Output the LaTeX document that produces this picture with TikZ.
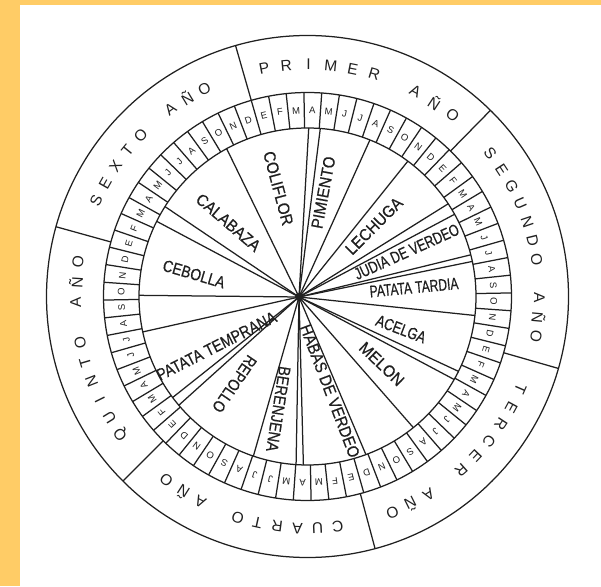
\documentclass[tikz,border=0pt]{standalone}
\usepackage{fontspec}
\setmainfont{Liberation Sans}
\newfontfamily\cropfont[FakeBold=0.5]{Liberation Sans}
\usetikzlibrary{calc}
\definecolor{frame}{HTML}{FFCC66}
\definecolor{ink}{HTML}{202020}
\newcommand{\croplabel}[2]{\resizebox{#1pt}{11.5pt}{\cropfont #2}}
\tikzset{
  ring/.style={draw=ink, line width=1.25pt},
  spoke/.style={draw=ink, line width=1.25pt},
  monthtxt/.style={inner sep=0pt, text=ink, font=\fontsize{9.5}{9.5}\selectfont},
  yeartxt/.style={inner sep=0pt, text=ink, font=\fontsize{15.5}{15.5}\selectfont},
  croptxt/.style={inner sep=0pt, text=ink},
}
\begin{document}
\begin{tikzpicture}[x=1pt,y=1pt]
\useasboundingbox (0,0) rectangle (601,586);
\fill[frame] (0,0) rectangle (601,586);
\fill[white] (20,0) rectangle (601,581);
\coordinate (C) at (307.5,289.5);
% circles
\draw[ring] (C) circle[radius=261];
\draw[ring] (C) circle[radius=204];
\draw[ring] (C) circle[radius=168.5];
% year separators
\foreach \a [count=\i] in {106,45.5,-16,-75,-135,164.5} {
  \coordinate (ys\i) at ($(C)+(\a:204)$);
  \coordinate (ye\i) at ($(C)+(\a:261)$);
  \draw[ring] (ys\i) -- (ye\i);
}
% month cells
\foreach \k in {0,...,71} {
  \coordinate (mi\k) at ($(C)+(106-5*\k:168.5)$);
  \coordinate (mo\k) at ($(C)+(106-5*\k:204)$);
  \draw[ring] (mi\k) -- (mo\k);
}
% month letters
\foreach \y in {0,...,5} {
  \foreach \m [count=\i from 0] in {E,F,M,A,M,J,J,A,S,O,N,D} {
    \pgfmathsetmacro\ang{103.5-60*\y-5*\i}
    \node[monthtxt, rotate=\ang-90] (ml\y-\i) at ($(C)+(\ang:186.25)$) {\m};
  }
}
% year labels
\foreach \nm/\ca/\st/\n/\txt in {
  a/76/5.5/10/{P,R,I,M,E,R,{},A,Ñ,O},
  b/14/4.8/11/{S,E,G,U,N,D,O,{},A,Ñ,O},
  c/-46/5/10/{T,E,R,C,E,R,{},A,Ñ,O},
  d/-105/5/10/{C,U,A,R,T,O,{},A,Ñ,O},
  e/194/5/10/{Q,U,I,N,T,O,{},A,Ñ,O},
  f/136/4.9/9/{S,E,X,T,O,{},A,Ñ,O}} {
  \foreach \ch [count=\i] in \txt {
    \pgfmathsetmacro\ang{\ca+\st*((\n+1)/2-\i)}
    \node[yeartxt, rotate=\ang-90] (yl\nm\i) at ($(C)+(\ang:232)$) {\ch};
  }
}
% crop spokes
\node[circle, fill=ink, inner sep=0pt, minimum size=8pt] (hub) at (299,289) {};
\foreach \t [count=\i] in {152,146,116,86.7,82.8,65.7,51.3,32,28,13.8,11.6,-6,-25,-28,-48.8,-67,-88.5,-91,-106,-138,-141.5,-167.4,179.4} {
  \pgfmathsetmacro\dd{8.5*cos(\t)+0.5*sin(\t)}
  \pgfmathsetmacro\len{\dd+168.5*sqrt(1-(72.5-\dd*\dd)/168.5/168.5)}
  \coordinate (se\i) at ($(hub.center)+(\t:\len)$);
  \draw[spoke] (hub.center) -- (se\i);
}
% crop labels
\node[croptxt, rotate=-75] (coliflor) at (278.3,397.7) {\croplabel{76}{COLIFLOR}};
\node[croptxt, rotate=79.5] (pimiento) at (323.3,393.5) {\croplabel{73}{PIMIENTO}};
\node[croptxt, rotate=45] (lechuga) at (374,360) {\croplabel{73}{LECHUGA}};
\node[croptxt, rotate=24.3] (judia) at (406.7,334.3) {\croplabel{113}{JUDIA DE VERDEO}};
\node[croptxt, rotate=5.4] (tardia) at (414,298.5) {\croplabel{89}{PATATA TARDIA}};
\node[croptxt, rotate=-20.7] (acelga) at (401,257) {\croplabel{52}{ACELGA}};
\node[croptxt, rotate=-43.8] (melon) at (381.7,222) {\croplabel{55}{MELON}};
\node[croptxt, rotate=-69.2] (habas) at (330,195) {\croplabel{141}{HABAS DE VERDEO}};
\node[croptxt, rotate=-98.9] (berenjena) at (278.3,177) {\croplabel{86}{BERENJENA}};
\node[croptxt, rotate=-124.4] (repollo) at (234.5,202) {\croplabel{65}{REPOLLO}};
\node[croptxt, rotate=27] (temprana) at (216.5,240) {\croplabel{132}{PATATA TEMPRANA}};
\node[croptxt, rotate=-16.5] (cebolla) at (194,312) {\croplabel{64}{CEBOLLA}};
\node[croptxt, rotate=-40.7] (calabaza) at (228.3,363.5) {\croplabel{79}{CALABAZA}};
\end{tikzpicture}
\end{document}
